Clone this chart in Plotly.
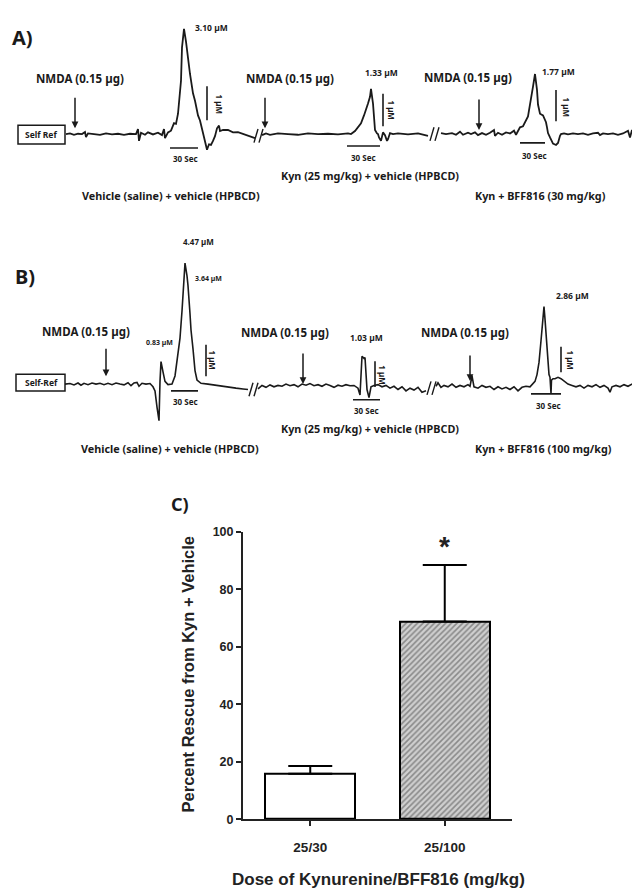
import plotly.graph_objects as go

# ---------------- DATA ----------------
# Panel A traces: time (s) and glutamate (µM) for each recording segment
A1_t = [58, 62, 66, 70, 74, 77, 78, 80, 86, 92, 98, 104, 110, 116, 122, 128, 130, 131, 133, 137, 140, 145, 150, 154, 156, 157, 160, 163,
        166, 168, 170, 172, 173, 174, 176, 178, 180, 182, 185, 187, 190, 192, 195, 197, 199, 201, 203, 205, 207, 209, 211, 212, 215,
        220, 225, 230, 233, 240, 247]
A1_c = [0, 0.02, -0.02, 0.01, 0, 0.06, -0.09, 0.02, 0, -0.02, 0.02, -0.01, 0.01, -0.02, 0.01, 0, 0.15, -0.2, 0.04, -0.02, 0.05, -0.01, 0.04,
        -0.03, 0.15, -0.12, 0.05, 0.1, 0.32, 0.3, 0.6, 1.2, 1.57, 2.55, 3.10, 2.72, 2.2, 1.77, 1.2, 0.98, 0.55, 0.4, 0.03, -0.26, -0.46,
        -0.3, -0.32, -0.2, -0.06, 0.17, 0.25, 0.09, 0.12, 0.12, 0.05, 0.06, 0.03, -0.06, -0.12]
A2_t = [254, 258, 262, 270, 280, 290, 300, 310, 320, 330, 340, 343, 347, 350, 353, 356, 358, 360, 362, 363, 365, 367, 369, 370, 371, 373,
        375, 377, 379, 380, 382, 385, 390, 400, 410, 420]
A2_c = [-0.03, 0.02, -0.02, 0.02, 0, -0.02, 0.02, 0, 0.01, -0.01, 0.02, 0, 0.09, 0.2, 0.32, 0.55, 0.7, 0.9, 1.1, 1.33, 0.9, 0.12, 0.02, 0,
        -0.1, -0.2, 0.05, -0.03, -0.2, -0.15, 0.03, 0, 0.02, -0.01, 0.02, -0.05]
A3_t = [433, 438, 444, 448, 452, 455, 460, 463, 467, 470, 474, 478, 482, 486, 487, 490, 494, 498, 502, 506, 508, 510, 512, 515, 517, 520,
        521, 523, 525, 527, 529, 530, 532, 535, 537, 538, 539, 540, 542, 545, 548, 550, 552, 553, 556, 560, 565, 570, 575, 580, 585, 590,
        592, 595, 600, 605, 610, 615, 620, 622, 624, 626, 628, 632, 637]
A3_c = [0.03, 0, 0.03, -0.02, 0.07, -0.02, 0.04, 0, 0.05, -0.03, 0.03, -0.02, 0.04, 0.12, -0.05, 0.04, -0.02, 0.05, 0.02, 0.1, -0.02, 0.1,
        0.2, 0.23, 0.35, 0.52, 0.7, 1.0, 1.4, 1.77, 1.3, 0.87, 0.6, 0.55, 0.4, 0.35, 0.2, 0.03, -0.1, -0.28, -0.32, -0.26, -0.05, 0,
        0.02, -0.01, 0.02, 0, 0.02, -0.02, 0.02, 0.04, -0.03, 0.02, 0, 0.02, -0.02, 0.02, 0.1, -0.1, 0.12, -0.05, 0.03, 0, 0.02]

# Panel B traces
B1_t = [57, 62, 66, 70, 73, 76, 80, 84, 88, 92, 96, 100, 104, 108, 112, 116, 120, 123, 126, 129, 131, 134, 138, 142, 145, 147, 149, 151,
        152, 153, 155, 157, 160, 164, 167, 170, 172, 174, 176, 177, 179, 180, 182, 183, 185, 187, 189, 193, 200, 210, 220, 228, 235, 240]
B1_c = [0, 0.02, -0.03, 0.04, -0.04, 0.03, -0.02, 0.04, 0, 0.03, -0.02, 0.03, -0.02, 0.04, 0, -0.03, 0.05, -0.06, 0.04, 0.06, -0.08, 0.03,
        0, 0.02, -0.1, -0.25, -0.85, -1.35, 0.1, 0.83, 0.45, 0.1, -0.02, 0, 0.3, 1.2, 1.7, 2.7, 3.8, 4.47, 4.0, 3.64, 2.6, 2.0, 1.3, 0.5,
        0.15, 0.03, 0.0, -0.06, -0.12, -0.15, -0.18, -0.2]
B2_t = [250, 254, 258, 262, 266, 270, 274, 278, 282, 286, 290, 294, 298, 302, 306, 310, 314, 318, 322, 326, 330, 334, 338, 342, 346, 350,
        352, 354, 356, 357, 359, 361, 363, 366, 370, 374, 378, 382, 386, 390, 394, 398, 402, 406, 410, 414, 418]
B2_c = [-0.18, -0.05, -0.12, -0.03, -0.1, -0.05, -0.08, 0, -0.06, -0.02, -0.1, 0, -0.04, 0.02, -0.06, -0.02, -0.08, 0, -0.05, -0.12, -0.04,
        -0.08, -0.02, -0.06, -0.05, -0.15, -0.4, 1.03, 0.95, 0.98, -0.2, -0.5, -0.1, -0.05, -0.02, -0.1, -0.05, -0.15, -0.08, -0.2, -0.1,
        -0.25, -0.15, -0.22, -0.12, -0.3, -0.25]
B3_t = [428, 430, 433, 436, 440, 444, 448, 452, 456, 460, 462, 464, 466, 470, 474, 478, 482, 486, 490, 494, 498, 502, 506, 510, 514, 518,
        522, 525, 527, 529, 531, 533, 535, 536, 537, 538, 539, 540, 541, 542, 543, 543.5, 545, 547, 550, 553, 556, 560, 564, 568, 572,
        576, 580, 584, 588, 592, 596, 600, 602, 604, 608, 612, 616, 620, 624, 628, 632, 637]
B3_c = [-0.08, 0.05, -0.12, -0.05, -0.1, 0, -0.12, -0.05, -0.1, -0.02, -0.08, 0.3, -0.1, -0.15, -0.05, -0.12, -0.08, -0.2, -0.1, -0.18,
        -0.12, -0.2, -0.1, -0.25, -0.12, -0.08, -0.1, 0, 0.1, 0.35, 0.8, 1.6, 2.6, 2.86, 2.4, 1.8, 1.1, 0.6, 0.35, 0.25, -0.35, 0.15,
        0.2, 0.2, 0.25, 0.2, 0.1, 0, -0.05, -0.1, -0.05, -0.15, -0.05, -0.1, -0.02, -0.12, -0.05, -0.15, -0.3, -0.1, -0.05, -0.1, -0.02,
        -0.08, 0, -0.12, -0.04, -0.08]

# Panel C bar chart
doses = ["25/30", "25/100"]
rescue = [15.8, 68.8]
rescue_sem = [2.7, 19.6]
y_ticks = [0, 20, 40, 60, 80, 100]

# ---------------- LAYOUT HELPERS ----------------
W, H = 640, 889
INK = "#1a1a1a"
TF = "Noto Sans"
AF = "Liberation Sans"

def P(x, y):
    return x / W, 1 - y / H

def lab(text, x, y, size, angle=0, family=TF, color=INK):
    px, py = P(x, y)
    return dict(text=text, x=px, y=py, xref="paper", yref="paper", showarrow=False,
                font=dict(size=size, family=family, color=color, weight="bold"),
                textangle=angle, xanchor="center", yanchor="middle")

# panel A: baseline pixel row 121, 34.5 px per µM ; panel B: baseline 375, 27.5 px per µM
A_top, A_bot, A_base, A_k = 0, 215, 121, 34.5
B_top, B_bot, B_base, B_k = 215, 455, 375, 27.5

fig = go.Figure()
for t, c in [(A1_t, A1_c), (A2_t, A2_c), (A3_t, A3_c)]:
    fig.add_trace(go.Scatter(x=t, y=c, mode="lines", line=dict(color=INK, width=1.8), xaxis="x", yaxis="y",
                             showlegend=False, hoverinfo="skip"))
for t, c in [(B1_t, B1_c), (B2_t, B2_c), (B3_t, B3_c)]:
    fig.add_trace(go.Scatter(x=t, y=c, mode="lines", line=dict(color=INK, width=1.6), xaxis="x2", yaxis="y2",
                             showlegend=False, hoverinfo="skip"))

fig.add_trace(go.Bar(
    x=doses, y=rescue, xaxis="x3", yaxis="y3", width=0.67, showlegend=False,
    marker=dict(color=["white", "#cfcfcf"], line=dict(color="black", width=2),
                pattern=dict(shape=["", "/"], fgcolor="#5a5a5a", bgcolor="#d0d0d0", size=4, solidity=0.4)),
    error_y=dict(type="data", array=rescue_sem, arrayminus=[0, 0], symmetric=False,
                 color="black", thickness=2, width=22),
))

shapes = []
ann = []

def seg(x0, y0, x1, y1, ax, w=1.6):
    shapes.append(dict(type="line", xref=ax[0], yref=ax[1], x0=x0, y0=y0, x1=x1, y1=y1,
                       line=dict(color=INK, width=w)))

# scale bars (30 s horizontal, 1 µM vertical)
for (x0, x1, y), ax in [((162, 190, -0.41), ("x", "y")), ((339, 372, -0.35), ("x", "y")), ((512, 537, -0.26), ("x", "y")),
                        ((163, 190, -0.25), ("x2", "y2")), ((345, 372, -0.58), ("x2", "y2")), ((523, 553, -0.36), ("x2", "y2"))]:
    seg(x0, y, x1, y, ax)
for (x, y0, y1), ax in [((199, 0.41, 1.41), ("x", "y")), ((375, 0.23, 1.19), ("x", "y")), ((548, 0.38, 1.3), ("x", "y")),
                        ((198, 0.29, 1.45), ("x2", "y2")), ((367, -0.11, 0.84), ("x2", "y2")), ((553, 0.44, 1.38), ("x2", "y2"))]:
    seg(x, y0, x, y1, ax)
# break marks //
for (xc, yc, h), ax in [((251, -0.05, 0.2), ("x", "y")), ((427, 0.0, 0.2), ("x", "y")),
                        ((246, -0.2, 0.25), ("x2", "y2")), ((424, -0.15, 0.25), ("x2", "y2"))]:
    for dx in (-3, 2):
        seg(xc + dx - 2, yc - h, xc + dx + 2, yc + h, ax, w=1.4)

# Self Ref boxes
for (x0, y0, x1, y1) in [(10, 112, 57, 131), (8, 365, 57, 382)]:
    shapes.append(dict(type="rect", xref="paper", yref="paper", x0=x0 / W, x1=x1 / W, y0=1 - y1 / H, y1=1 - y0 / H,
                       line=dict(color=INK, width=1.5), fillcolor="white"))

# NMDA arrows
for (x, y, ay), ax in [((67, 0.17, -32), ("x", "y")), ((257, 0.17, -32), ("x", "y")), ((471, 0.12, -32), ("x", "y")),
                       ((98, 0.29, -29), ("x2", "y2")), ((295, 0.0, -32), ("x2", "y2")), ((462, 0.11, -27), ("x2", "y2"))]:
    ann.append(dict(x=x, y=y, xref=ax[0], yref=ax[1], text="", showarrow=True, ax=0, ay=ay,
                    arrowhead=2, arrowsize=0.9, arrowwidth=1.5, arrowcolor=INK))

NM, CD, PK, SC = 11.5, 10.8, 8.5, 8
# Panel A texts
ann += [
    lab("A)", 14, 23, 20),
    lab("3.10 µM", 203, 13, PK),
    lab("NMDA (0.15 µg)", 72, 65, NM), lab("NMDA (0.15 µg)", 282, 65, NM), lab("NMDA (0.15 µg)", 460, 64, NM),
    lab("1.33 µM", 373, 58, PK), lab("1.77 µM", 550, 57, PK),
    lab("30 Sec", 177, 146, SC), lab("30 Sec", 355, 145, SC), lab("30 Sec", 526, 143, SC),
    lab("1 µM", 211, 90, SC, angle=90), lab("1 µM", 384, 96, SC, angle=90), lab("1 µM", 558, 93, SC, angle=90),
    lab("Self Ref", 33, 121.5, 8.5),
    lab("Kyn (25 mg/kg) + vehicle (HPBCD)", 362, 163, CD),
    lab("Vehicle (saline) + vehicle (HPBCD)", 163, 183, CD),
    lab("Kyn + BFF816 (30 mg/kg)", 532, 183, CD),
]
# Panel B texts
ann += [
    lab("B)", 17, 266, 20),
    lab("4.47 µM", 190, 230, 8), lab("3.64 µM", 200, 268, 7), lab("0.83 µM", 151, 333, 7),
    lab("NMDA (0.15 µg)", 78, 322, NM), lab("NMDA (0.15 µg)", 277, 323, NM), lab("NMDA (0.15 µg)", 457, 323, NM),
    lab("1.03 µM", 358, 328, PK), lab("2.86 µM", 564, 285, PK),
    lab("30 Sec", 177, 393, SC), lab("30 Sec", 358, 402, SC), lab("30 Sec", 540, 397, SC),
    lab("1 µM", 205, 350, SC, angle=90), lab("1 µM", 375, 365, SC, angle=90), lab("1 µM", 563, 350, SC, angle=90),
    lab("Self-Ref", 33, 373.5, 8.5),
    lab("Kyn (25 mg/kg) + vehicle (HPBCD)", 362, 420, CD),
    lab("Vehicle (saline) + vehicle (HPBCD)", 162, 440, CD),
    lab("Kyn + BFF816 (100 mg/kg)", 535, 440, CD),
]
# Panel C texts
ann += [
    lab("C)", 172, 497, 18),
    lab("Percent Rescue from Kyn + Vehicle", 180, 670, 16.5, angle=-90, family=AF, color="#222"),
    lab("Dose of Kynurenine/BFF816 (mg/kg)", 370, 878, 17, family=AF, color="#222"),
    dict(x=1, y=95, xref="x3", yref="y3", text="*", showarrow=False,
         font=dict(size=28, family=AF, color="#222", weight="bold"), xanchor="center", yanchor="middle"),
]

ya = dict(showgrid=False, zeroline=False, showticklabels=False, visible=False, fixedrange=True)
fig.update_layout(
    width=W, height=H, margin=dict(l=0, r=0, t=0, b=0), paper_bgcolor="white", plot_bgcolor="rgba(0,0,0,0)",
    xaxis=dict(domain=[0, 1], range=[0, W], anchor="y", **ya),
    yaxis=dict(domain=[1 - A_bot / H, 1 - A_top / H], range=[(A_base - A_bot) / A_k, (A_base - A_top) / A_k], anchor="x", **ya),
    xaxis2=dict(domain=[0, 1], range=[0, W], anchor="y2", **ya),
    yaxis2=dict(domain=[1 - B_bot / H, 1 - B_top / H], range=[(B_base - B_bot) / B_k, (B_base - B_top) / B_k], anchor="x2", **ya),
    xaxis3=dict(domain=[235 / W, 504 / W], range=[-0.5, 1.5], anchor="y3", type="category",
                showline=True, linewidth=2, linecolor="#222", ticks="outside", ticklen=5, tickwidth=2, tickcolor="#222",
                showgrid=False, zeroline=False, ticklabelstandoff=10,
                tickfont=dict(family=AF, size=13.5, color="#222", weight="bold")),
    yaxis3=dict(domain=[1 - 817 / H, 1 - 525 / H], range=[0, 100], anchor="x3", tickvals=y_ticks,
                showline=True, linewidth=2, linecolor="#222", ticks="outside", ticklen=5, tickwidth=2, tickcolor="#222",
                showgrid=False, zeroline=False,
                tickfont=dict(family=AF, size=12.5, color="#222", weight="bold")),
    shapes=shapes, annotations=ann, bargap=0,
)
fig.write_html("out.html")
